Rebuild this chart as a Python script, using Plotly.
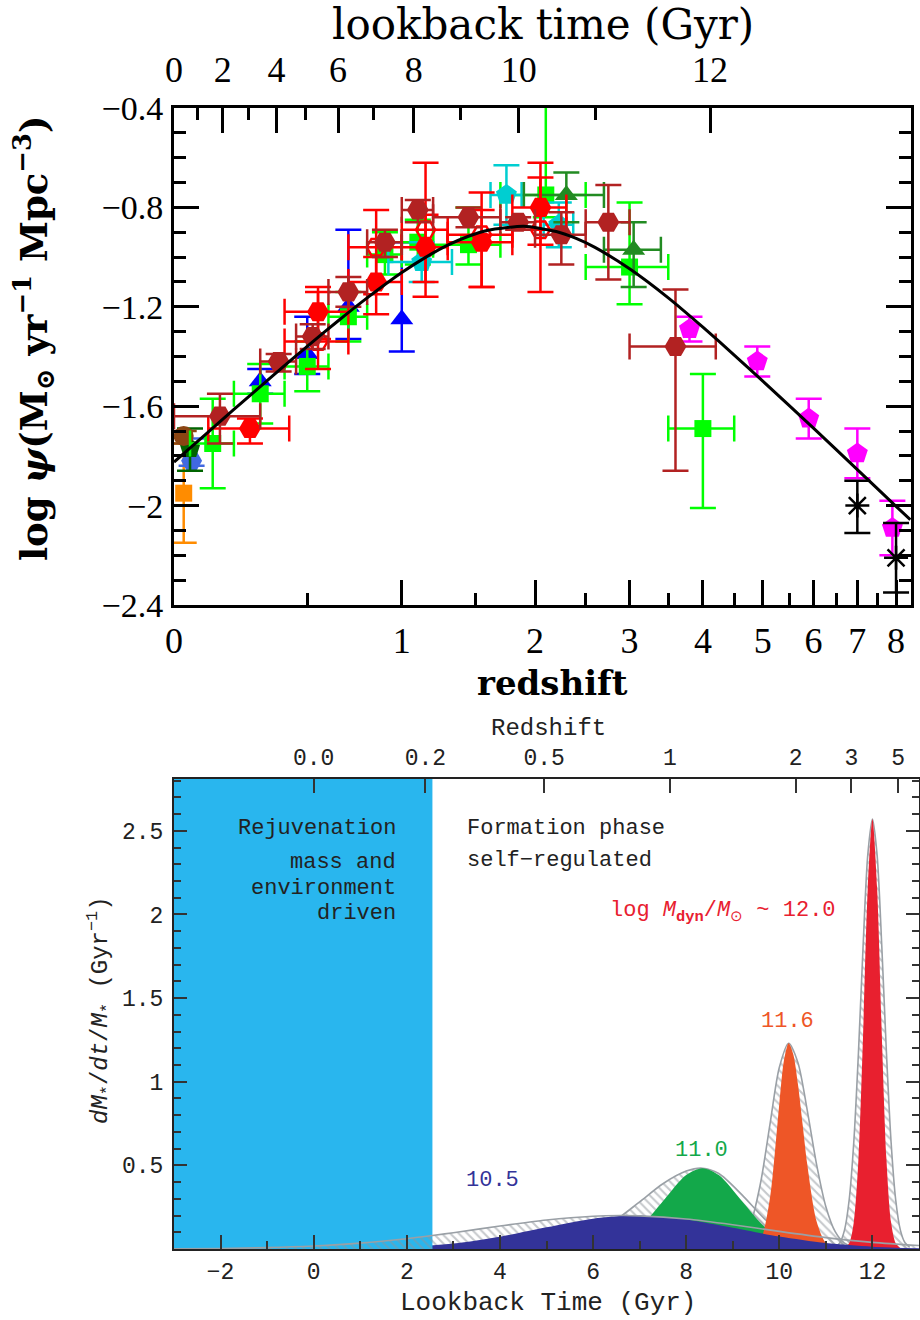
import numpy as np
import plotly.graph_objects as go

W, H = 920, 1320

# ================= TOP PANEL DATA (redshift z, log psi) =================
# Wyder+05
wyder_z = [0.055]; wyder_y = [-1.82]; wyder_up = [0.09]; wyder_dn = [0.02]
# Schiminovich+05
schim_z = [0.3, 0.5, 0.7, 1.0]
schim_y = [-1.50, -1.39, -1.20, -1.25]
schim_up = [0.05, 0.15, 0.31, 0.31]
schim_dn = [0.05, 0.08, 0.13, 0.13]
# Robotham & Driver 11
robo_z = [0.05]; robo_y = [-1.77]; robo_up = [0.08]; robo_dn = [0.09]
# Cucciati+12
cucc_z = [0.125, 0.3, 0.5, 0.7, 0.9, 1.1, 1.45, 2.1, 3.0, 4.0]
cucc_zlo = [0.05, 0.2, 0.4, 0.6, 0.8, 1.0, 1.2, 1.7, 2.5, 3.5]
cucc_zhi = [0.2, 0.4, 0.6, 0.8, 1.0, 1.2, 1.7, 2.5, 3.5, 4.5]
cucc_y = [-1.75, -1.55, -1.44, -1.24, -0.99, -0.94, -0.95, -0.75, -1.04, -1.69]
cucc_up = [0.18, 0.12, 0.10, 0.10, 0.09, 0.09, 0.15, 0.49, 0.26, 0.22]
cucc_dn = [0.18, 0.12, 0.10, 0.10, 0.08, 0.09, 0.08, 0.09, 0.15, 0.32]
# Dahlen+07
dahl_z = [1.125, 1.75, 2.225]
dahl_zlo = [0.92, 1.62, 2.08]
dahl_zhi = [1.33, 1.88, 2.37]
dahl_y = [-1.02, -0.75, -0.87]
dahl_up = [0.08, 0.12, 0.09]
dahl_dn = [0.08, 0.12, 0.09]
# Reddy & Steidel 09
reddy_z = [2.3, 3.05]
reddy_zlo = [1.9, 2.7]
reddy_zhi = [2.7, 3.4]
reddy_y = [-0.75, -0.97]
reddy_up = [0.09, 0.11]
reddy_dn = [0.11, 0.15]
# Bouwens+12
bouw_z = [3.8, 4.9, 5.9, 7.0, 7.9]
bouw_y = [-1.29, -1.42, -1.65, -1.79, -2.09]
bouw_err = [0.05, 0.06, 0.08, 0.10, 0.11]
# Schenker+13
schen_z = [7.0, 8.0]
schen_y = [-2.00, -2.21]
schen_up = [0.10, 0.14]
schen_dn = [0.11, 0.14]
# Sanders+03
sand_z = [0.03]; sand_y = [-1.72]; sand_up = [0.02]; sand_dn = [0.03]
# Takeuchi+05
take_z = [0.03]; take_y = [-1.95]; take_up = [0.20]; take_dn = [0.20]
# Magnelli+11 (open)
mag11_z = [0.55, 0.85, 1.15, 1.55, 2.05]
mag11_zlo = [0.4, 0.7, 1.0, 1.3, 1.8]
mag11_zhi = [0.7, 1.0, 1.3, 1.8, 2.3]
mag11_y = [-1.34, -0.96, -0.89, -0.91, -0.89]
mag11_up = [0.22, 0.15, 0.27, 0.17, 0.21]
mag11_dn = [0.11, 0.19, 0.21, 0.21, 0.25]
# Magnelli+13 (filled)
mag13_z = [0.26, 0.55, 0.85, 1.15, 1.55, 2.05]
mag13_zlo = [0.11, 0.4, 0.7, 1.0, 1.3, 1.8]
mag13_zhi = [0.42, 0.7, 1.0, 1.3, 1.8, 2.3]
mag13_y = [-1.69, -1.22, -1.10, -0.96, -0.94, -0.80]
mag13_up = [0.04, 0.08, 0.10, 0.13, 0.13, 0.18]
mag13_dn = [0.06, 0.11, 0.13, 0.20, 0.18, 0.15]
# Gruppioni+13
grup_z = [0.15, 0.375, 0.525, 0.7, 0.9, 1.1, 1.45, 1.85, 2.25, 2.75, 3.6]
grup_zlo = [0.0, 0.3, 0.45, 0.6, 0.8, 1.0, 1.2, 1.7, 2.0, 2.5, 3.0]
grup_zhi = [0.3, 0.45, 0.6, 0.8, 1.0, 1.2, 1.7, 2.0, 2.5, 3.0, 4.2]
grup_y = [-1.64, -1.42, -1.32, -1.14, -0.94, -0.81, -0.84, -0.86, -0.91, -0.86, -1.36]
grup_up = [0.09, 0.03, 0.05, 0.06, 0.05, 0.04, 0.04, 0.02, 0.09, 0.15, 0.23]
grup_dn = [0.11, 0.04, 0.05, 0.06, 0.06, 0.05, 0.04, 0.03, 0.12, 0.23, 0.50]
# best-fit curve
fit_z = [0, 0.1, 0.2, 0.35, 0.5, 0.65, 0.8, 1.0, 1.15, 1.3, 1.45, 1.6, 1.9, 2.2,
         2.4, 2.6, 3.0, 3.5, 4.0, 4.5, 5.0, 6.0, 7.0, 8.0, 8.4]
fit_logpsi = [-1.825, -1.714, -1.613, -1.478, -1.359, -1.255, -1.164, -1.062, -1.001,
              -0.952, -0.916, -0.892, -0.876, -0.897, -0.925, -0.961, -1.047, -1.164,
              -1.282, -1.394, -1.499, -1.688, -1.855, -2.003, -2.057]

# top-panel axes
z_ticks = [0, 1, 2, 3, 4, 5, 6, 7, 8]
z_minor = [0.5, 1.5, 2.5, 3.5, 4.5, 5.5, 6.5, 7.5]
tl_major = [0, 2, 4, 6, 8, 10, 12]
tl_minor = [1, 3, 5, 7, 9, 11]
ytop_ticks = [-2.4, -2.0, -1.6, -1.2, -0.8, -0.4]
ytop_text = ['\u22122.4', '\u22122', '\u22121.6', '\u22121.2', '\u22120.8', '\u22120.4']

# ================= BOTTOM PANEL DATA (lookback time Gyr, dM/dt/M) =================
rejuv_end = 2.55
# log Mdyn 10.5
m105_t = [-3, -2, -1, 0, 1, 2, 3, 4, 5, 6, 6.9, 8, 9, 10, 11, 12, 13]
m105_y = [0.0, 0.0, 0.0001, 0.0007, 0.0032, 0.0115, 0.0327, 0.0735, 0.130, 0.1816,
          0.200, 0.1765, 0.1268, 0.0741, 0.0352, 0.0136, 0.0043]
m105_env_t = [-3, -2, -1, 0, 1, 2, 2.55, 3, 4, 5, 6, 6.6, 7, 8, 9, 10, 11, 12, 13]
m105_env_y = [0.0012, 0.0033, 0.0081, 0.0178, 0.035, 0.0617, 0.0804, 0.0974, 0.1374,
              0.1735, 0.196, 0.200, 0.1982, 0.1794, 0.1452, 0.1052, 0.0682, 0.0396, 0.0205]
# log Mdyn 11.0
m110_t = [6.0, 6.5, 7.0, 7.5, 8.0, 8.35, 8.7, 9.2, 9.7, 10.2, 10.7, 11.2]
m110_y = [0.0088, 0.0403, 0.1287, 0.2859, 0.4419, 0.483, 0.4419, 0.2859, 0.1287,
          0.0403, 0.0088, 0.0013]
m110_env_t = [5.0, 5.5, 6.0, 6.5, 7.0, 7.5, 8.0, 8.35, 8.7, 9.2, 9.7, 10.2, 10.7, 11.2, 11.7]
m110_env_y = [0.0174, 0.0437, 0.0943, 0.1755, 0.2817, 0.3901, 0.4658, 0.483, 0.4513,
              0.3237, 0.176, 0.0725, 0.0227, 0.0054, 0.001]
# log Mdyn 11.6
m116_t = [9.4, 9.6, 9.8, 9.9, 10.0, 10.1, 10.2, 10.3, 10.4, 10.5, 10.6, 10.8, 11.0, 11.2]
m116_y = [0.0047, 0.054, 0.307, 0.563, 0.869, 1.128, 1.23, 1.164, 0.985, 0.746, 0.506,
          0.166, 0.035, 0.0047]
m116_env_t = [8.8, 9.0, 9.2, 9.4, 9.6, 9.8, 10.0, 10.2, 10.4, 10.6, 10.8, 11.0, 11.2,
              11.4, 11.6, 11.8]
m116_env_y = [0.0027, 0.0137, 0.054, 0.166, 0.399, 0.746, 1.085, 1.23, 1.114, 0.829,
              0.506, 0.253, 0.104, 0.035, 0.0097, 0.0022]
# log Mdyn 12.0
m120_t = [11.4, 11.5, 11.6, 11.7, 11.8, 11.9, 12.0, 12.1, 12.2, 12.3, 12.4, 12.5, 12.6]
m120_y = [0.005, 0.034, 0.16, 0.54, 1.29, 2.16, 2.57, 2.16, 1.29, 0.54, 0.16, 0.034, 0.005]
m120_env_t = [11.2, 11.3, 11.4, 11.5, 11.6, 11.7, 11.8, 11.9, 12.0, 12.1, 12.2, 12.3,
              12.4, 12.5, 12.6, 12.7, 12.8]
m120_env_y = [0.010, 0.037, 0.113, 0.293, 0.641, 1.177, 1.816, 2.356, 2.57, 2.356,
              1.816, 1.177, 0.641, 0.293, 0.113, 0.037, 0.010]

tb_major = [-2, 0, 2, 4, 6, 8, 10, 12]
tb_minor = [-1, 1, 3, 5, 7, 9, 11]
rs_pos = [0, 2.4, 4.95, 7.65, 10.35, 11.55, 12.55]
rs_text = ['0.0', '0.2', '0.5', '1', '2', '3', '5']
yb_ticks = [0.5, 1, 1.5, 2, 2.5]
yb_text = ['0.5', '1', '1.5', '2', '2.5']

# ================= helpers =================
def u(z):
    return np.log10(1 + np.asarray(z, dtype=float))

# lookback time -> redshift (H0=70, Om=0.3, OL=0.7) for the top axis ticks
zz = np.linspace(0, 30, 300001)
integ = 1.0 / ((1 + zz) * np.sqrt(0.3 * (1 + zz) ** 3 + 0.7))
tl_grid = np.concatenate([[0], np.cumsum(0.5 * (integ[1:] + integ[:-1]) * np.diff(zz))]) * 977.8 / 70.0
def z_of_tl(t):
    return np.interp(t, tl_grid, zz)

def px(xp):
    return xp / W

def py(yp):
    return 1 - yp / H

fig = go.Figure()

def add_pts(z, y, up, dn, color, symbol, size, zlo=None, zhi=None, open_=False):
    x = u(z)
    ex = None
    if zlo is not None:
        ex = dict(type='data', symmetric=False, array=u(zhi) - x, arrayminus=x - u(zlo),
                  color=color, thickness=2.5, width=13)
    if open_:
        marker = dict(symbol=symbol + '-open', size=size, color=color, line=dict(width=2.5, color=color))
    else:
        marker = dict(symbol=symbol, size=size, color=color, line=dict(width=0))
    fig.add_trace(go.Scatter(
        x=x, y=y, mode='markers', marker=marker,
        error_y=dict(type='data', symmetric=False, array=up, arrayminus=dn,
                     color=color, thickness=2.5, width=13),
        error_x=ex, xaxis='x', yaxis='y', showlegend=False, hoverinfo='skip'))

add_pts(take_z, take_y, take_up, take_dn, '#FF8C00', 'square', 17)
add_pts(wyder_z, wyder_y, wyder_up, wyder_dn, '#4169E1', 'hexagon2', 21)
add_pts(robo_z, robo_y, robo_up, robo_dn, '#006400', 'pentagon', 21)
add_pts(sand_z, sand_y, sand_up, sand_dn, '#8B4513', 'circle', 20)
add_pts(schim_z, schim_y, schim_up, schim_dn, '#0000FF', 'triangle-up', 20)
add_pts(cucc_z, cucc_y, cucc_up, cucc_dn, '#00FF00', 'square', 17, cucc_zlo, cucc_zhi)
add_pts(dahl_z, dahl_y, dahl_up, dahl_dn, '#00CED1', 'pentagon', 22, dahl_zlo, dahl_zhi)
add_pts(reddy_z, reddy_y, reddy_up, reddy_dn, '#228B22', 'triangle-up', 20, reddy_zlo, reddy_zhi)
add_pts(bouw_z, bouw_y, bouw_err, bouw_err, '#FF00FF', 'pentagon', 22)
add_pts(schen_z, schen_y, schen_up, schen_dn, '#000000', 'asterisk', 20, open_=True)
add_pts(mag11_z, mag11_y, mag11_up, mag11_dn, '#FF0000', 'hexagon2', 19, mag11_zlo, mag11_zhi, open_=True)
add_pts(mag13_z, mag13_y, mag13_up, mag13_dn, '#FF0000', 'hexagon2', 22, mag13_zlo, mag13_zhi)
add_pts(grup_z, grup_y, grup_up, grup_dn, '#B22222', 'hexagon2', 22, grup_zlo, grup_zhi)

fig.add_trace(go.Scatter(x=u(fit_z), y=fit_logpsi, mode='lines',
                         line=dict(color='black', width=3, shape='spline', smoothing=0.6),
                         xaxis='x', yaxis='y', showlegend=False, hoverinfo='skip'))
# placeholder so the top lookback axis is drawn
fig.add_trace(go.Scatter(x=[], y=[], xaxis='x2', yaxis='y', showlegend=False))

# ================= bottom panel traces =================
GRAY = '#8E949A'
hatch = dict(shape='\\', fgcolor=GRAY, bgcolor='rgba(0,0,0,0)', size=6, solidity=0.35)

def add_hatch(t, y):
    fig.add_trace(go.Scatter(x=t, y=y, mode='lines', fill='tozeroy', fillcolor='rgba(0,0,0,0)',
                             fillpattern=hatch, line=dict(width=0, shape='spline', smoothing=0.8),
                             xaxis='x3', yaxis='y2', showlegend=False, hoverinfo='skip'))

def add_fill(t, y, color):
    fig.add_trace(go.Scatter(x=t, y=y, mode='lines', fill='tozeroy', fillcolor=color,
                             line=dict(width=0, color=color, shape='spline', smoothing=0.8),
                             xaxis='x3', yaxis='y2', showlegend=False, hoverinfo='skip'))

def add_outline(t, y):
    fig.add_trace(go.Scatter(x=t, y=y, mode='lines',
                             line=dict(width=1.6, color='#9AA0A6', shape='spline', smoothing=0.8),
                             xaxis='x3', yaxis='y2', showlegend=False, hoverinfo='skip'))

xb_range = [-3, 13]
yb_range = [0, 2.81]

add_hatch(m105_env_t, m105_env_y)
add_hatch(m110_env_t, m110_env_y)
add_hatch(m116_env_t, m116_env_y)
add_hatch(m120_env_t, m120_env_y)
add_outline(m110_env_t, m110_env_y)
add_outline(m116_env_t, m116_env_y)
add_outline(m120_env_t, m120_env_y)
add_fill(m110_t, m110_y, '#13A84A')
add_fill(m116_t, m116_y, '#EE5627')
add_fill(m120_t, m120_y, '#E8202F')
add_fill(m105_t, m105_y, '#333399')
# rejuvenation band
fig.add_trace(go.Scatter(x=[xb_range[0], rejuv_end, rejuv_end, xb_range[0]],
                         y=[yb_range[0], yb_range[0], yb_range[1], yb_range[1]],
                         mode='lines', fill='toself', fillcolor='#29B6EE', line=dict(width=0),
                         xaxis='x3', yaxis='y2', showlegend=False, hoverinfo='skip'))
left_idx = [i for i, t in enumerate(m105_env_t) if t <= rejuv_end]
add_hatch([m105_env_t[i] for i in left_idx], [m105_env_y[i] for i in left_idx])
add_outline(m105_env_t, m105_env_y)
fig.add_trace(go.Scatter(x=[], y=[], xaxis='x4', yaxis='y2', showlegend=False))

# ================= layout =================
TOPF = 'Liberation Serif'
TITF = 'DejaVu Serif'
MONO = 'Liberation Mono'

top_xdom = [px(174), px(911)]
top_ydom = [py(605), py(108)]
bot_xdom = [px(174), px(919)]
bot_ydom = [py(1249), py(779)]

fig.update_layout(
    width=W, height=H, margin=dict(l=0, r=0, t=0, b=0, autoexpand=False),
    paper_bgcolor='white', plot_bgcolor='white', showlegend=False,
    xaxis=dict(domain=top_xdom, anchor='y', range=[0, 0.974], automargin=False,
               tickmode='array', tickvals=u(z_ticks), ticktext=[str(v) for v in z_ticks],
               ticks='inside', ticklen=25, tickwidth=2.5, tickcolor='black',
               showline=True, linewidth=3, linecolor='black', mirror=True,
               showgrid=False, zeroline=False, ticklabelstandoff=2,
               tickfont=dict(family=TOPF, size=36, color='black'),
               minor=dict(tickmode='array', tickvals=u(z_minor), ticks='inside', ticklen=12,
                          tickwidth=2.5, tickcolor='black', showgrid=False)),
    xaxis2=dict(overlaying='x', side='top', anchor='y', range=[0, 0.974], automargin=False,
                tickmode='array', tickvals=u(z_of_tl(tl_major)), ticktext=[str(v) for v in tl_major],
                ticks='inside', ticklen=25, tickwidth=2.5, tickcolor='black',
                showline=False, showgrid=False, zeroline=False, ticklabelstandoff=18,
                tickfont=dict(family=TOPF, size=36, color='black'),
                minor=dict(tickmode='array', tickvals=u(z_of_tl(tl_minor)), ticks='inside', ticklen=12,
                           tickwidth=2.5, tickcolor='black', showgrid=False)),
    yaxis=dict(domain=top_ydom, anchor='x', range=[-2.4, -0.4], automargin=False,
               tickmode='array', tickvals=ytop_ticks, ticktext=ytop_text,
               ticks='inside', ticklen=25, tickwidth=2.5, tickcolor='black',
               showline=True, linewidth=3, linecolor='black', mirror='ticks',
               showgrid=False, zeroline=False, ticklabelstandoff=1,
               tickfont=dict(family=TOPF, size=34, color='black'),
               minor=dict(tickmode='array', tickvals=[round(-2.4 + 0.1 * k, 1) for k in range(21) if k % 4],
                          ticks='inside', ticklen=12, tickwidth=2.5, tickcolor='black', showgrid=False)),
    xaxis3=dict(domain=bot_xdom, anchor='y2', range=xb_range, automargin=False,
                tickmode='array', tickvals=tb_major, ticktext=[str(v).replace('-', '\u2212') for v in tb_major],
                ticks='inside', ticklen=14, tickwidth=1.5, tickcolor='#333',
                showline=True, linewidth=2, linecolor='#222', mirror=True,
                showgrid=False, zeroline=False, ticklabelstandoff=0,
                tickfont=dict(family=MONO, size=23, color='#222'),
                minor=dict(tickmode='array', tickvals=tb_minor, ticks='inside', ticklen=8,
                           tickwidth=1.5, tickcolor='#333', showgrid=False)),
    xaxis4=dict(overlaying='x3', side='top', anchor='y2', range=xb_range, automargin=False,
                tickmode='array', tickvals=rs_pos, ticktext=rs_text,
                ticks='inside', ticklen=14, tickwidth=1.5, tickcolor='#333',
                showline=False, showgrid=False, zeroline=False, ticklabelstandoff=8,
                tickfont=dict(family=MONO, size=23, color='#222')),
    yaxis2=dict(domain=bot_ydom, anchor='x3', range=yb_range, automargin=False,
                tickmode='array', tickvals=yb_ticks, ticktext=yb_text,
                ticks='inside', ticklen=13, tickwidth=1.5, tickcolor='#333',
                showline=True, linewidth=2, linecolor='#222', mirror='ticks',
                showgrid=False, zeroline=False, ticklabelstandoff=4,
                tickfont=dict(family=MONO, size=23, color='#222'),
                minor=dict(tickmode='array', tickvals=[round(0.1 * k, 1) for k in range(1, 29) if k % 5],
                           ticks='inside', ticklen=7, tickwidth=1.5, tickcolor='#333', showgrid=False)),
)

ann = []
def A(text, x, y, size, family, color='black', xanchor='center', angle=0):
    ann.append(dict(text=text, x=px(x), y=py(y), xref='paper', yref='paper', showarrow=False,
                    xanchor=xanchor, yanchor='middle', textangle=angle,
                    font=dict(family=family, size=size, color=color)))

A('lookback time (Gyr)', 543, 24, 42, TITF)
A('<b>redshift</b>', 552, 683, 34, TITF)
A('<b>log <i>\u03c8</i>(M<sub>\u2299</sub> yr<sup>\u22121</sup> Mpc<sup>\u22123</sup>)</b>', 33, 338, 37, TITF, angle=-90)

A('Redshift', 548, 728, 24, MONO, '#222')
A('Lookback Time (Gyr)', 548, 1303, 26, MONO, '#222')
A('<i>dM</i><sub>*</sub>/<i>dt</i>/<i>M</i><sub>*</sub> (Gyr<sup>\u22121</sup>)', 100, 1010, 24, MONO, '#222', angle=-90)
A('Rejuvenation', 398, 828, 22, MONO, '#222', 'right')
A('mass and', 398, 862, 22, MONO, '#222', 'right')
A('environment', 398, 888, 22, MONO, '#222', 'right')
A('driven', 398, 913, 22, MONO, '#222', 'right')
A('Formation phase', 465, 828, 22, MONO, '#222', 'left')
A('self\u2212regulated', 465, 860, 22, MONO, '#222', 'left')
A('log <i>M</i><sub><b>dyn</b></sub>/<i>M</i><sub>\u2299</sub> ~ 12.0', 723, 912, 22, MONO, '#E8202F')
A('11.6', 787, 1021, 22, MONO, '#EE5627')
A('11.0', 701, 1150, 22, MONO, '#13A84A')
A('10.5', 492, 1180, 22, MONO, '#333399')
fig.update_layout(annotations=ann)

fig.write_html('out.html')
